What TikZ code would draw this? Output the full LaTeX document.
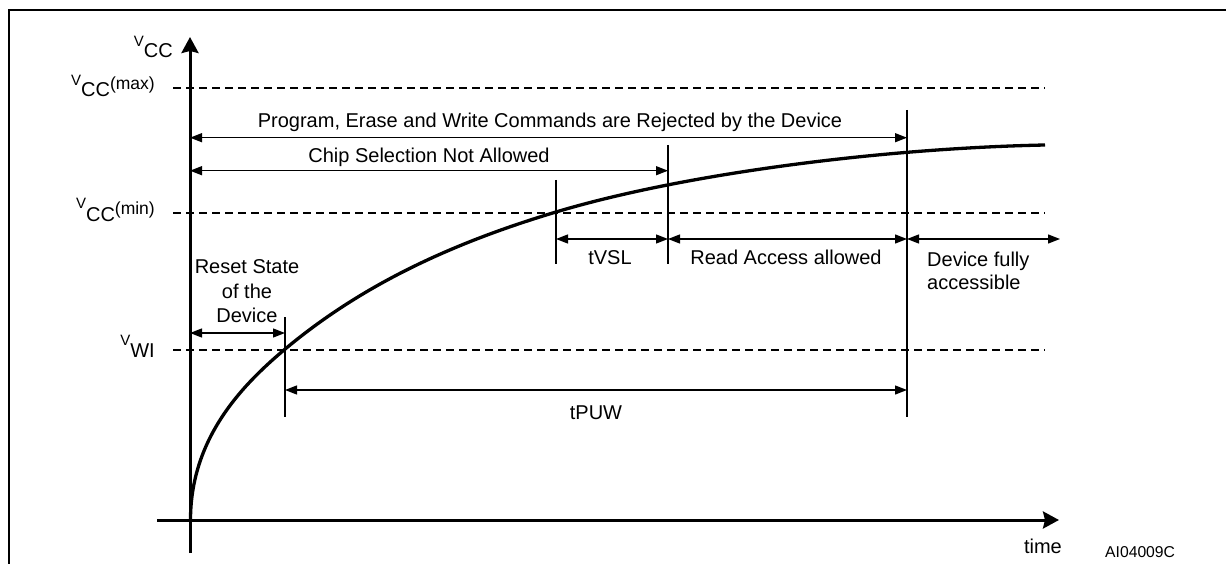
\documentclass[tikz,border=0pt]{standalone}
\usepackage{fontspec}
\setmainfont{Liberation Sans}
\usetikzlibrary{arrows.meta}
\newcommand\vlab[3]{\raisebox{#3}{\fontsize{15}{15}\selectfont V}#1\raisebox{7.5pt}{\fontsize{17.5}{17.5}\selectfont #2}}
\tikzset{
  lbl/.style={inner sep=0pt, font=\fontsize{20}{24}\selectfont},
  frameline/.style={line width=2.3pt},
  axisline/.style={line width=3pt, -{Stealth[length=16pt,width=17pt,inset=2pt]}},
  curveline/.style={line width=3.3pt, line join=round},
  levelline/.style={line width=1.2pt, dash pattern=on 8pt off 5pt},
  markline/.style={line width=1.3pt},
  dimline/.style={line width=1.3pt, {Triangle[length=12pt,width=9pt]}-{Triangle[length=12pt,width=9pt]}}
}
\begin{document}
\begin{tikzpicture}[x=1pt,y=-1pt]
\useasboundingbox (0,0) rectangle (1226,564);
% frame
\coordinate (fb) at (9,564);
\coordinate (fc) at (9,10);
\coordinate (fr) at (1226,10);
\draw[frameline] (fb) -- (fc) -- (fr);
% axes
\coordinate (O) at (190,520);
\coordinate (ybot) at (190,553);
\coordinate (ytop) at (190,37);
\coordinate (xl) at (157,520);
\coordinate (xr) at (1059,520);
\draw[axisline] (ybot) -- (ytop);
\draw[axisline] (xl) -- (xr);
% level lines
\coordinate (maxl) at (173,88);  \coordinate (maxr) at (1045,88);
\coordinate (minl) at (173,213); \coordinate (minr) at (1045,213);
\coordinate (wil) at (173,350);  \coordinate (wir) at (1045,350);
\draw[levelline] (maxl) -- (maxr);
\draw[levelline] (minl) -- (minr);
\draw[levelline] (wil) -- (wir);
% curve
\coordinate (c0) at (190.5,520);
\coordinate (c1) at (284,350);
\coordinate (c2) at (556,212);
\coordinate (c3) at (1045,145);
\draw[curveline] (c0) .. controls (190.5,440) and (240,387) .. (c1)
  .. controls (364,282.8) and (456,242) .. (c2)
  .. controls (686,173) and (885,148.2) .. (c3);
% marker lines
\coordinate (m1t) at (285,317); \coordinate (m1b) at (285,417);
\coordinate (m2t) at (556,180); \coordinate (m2b) at (556,264);
\coordinate (m3t) at (668,145); \coordinate (m3b) at (668,264);
\coordinate (m4t) at (907,110); \coordinate (m4b) at (907,417);
\draw[markline] (m1t) -- (m1b);
\draw[markline] (m2t) -- (m2b);
\draw[markline] (m3t) -- (m3b);
\draw[markline] (m4t) -- (m4b);
% dimension arrows
\coordinate (pa) at (190,137.7); \coordinate (pb) at (907,137.7);
\coordinate (ca) at (190,170.7); \coordinate (cb) at (668,170.7);
\coordinate (va) at (556,239);   \coordinate (vb) at (668,239);
\coordinate (ra) at (668,239);   \coordinate (rb) at (907,239);
\coordinate (da) at (907,239);   \coordinate (db) at (1060,239);
\coordinate (sa) at (190,333);   \coordinate (sb) at (285,333);
\coordinate (ua) at (285,390);   \coordinate (ub) at (907,390);
\draw[dimline] (pa) -- (pb);
\draw[dimline] (ca) -- (cb);
\draw[dimline] (va) -- (vb);
\draw[dimline] (ra) -- (rb);
\draw[dimline] (da) -- (db);
\draw[dimline] (sa) -- (sb);
\draw[dimline] (ua) -- (ub);
% texts
\node[lbl, anchor=base] (tprog) at (550,128) {Program, Erase and Write Commands are Rejected by the Device};
\node[lbl, anchor=base] (tchip) at (429,163) {Chip Selection Not Allowed};
\node[lbl, anchor=base] (ttvsl) at (610,264) {tVSL};
\node[lbl, anchor=base] (tread) at (786,264) {Read Access allowed};
\node[lbl, anchor=base west] (tdev1) at (927,266) {Device fully};
\node[lbl, anchor=base west] (tdev2) at (927,289) {accessible};
\node[lbl, anchor=base] (trs1) at (247,273) {Reset State};
\node[lbl, anchor=base] (trs2) at (247,298) {of the};
\node[lbl, anchor=base] (trs3) at (247,322) {Device};
\node[lbl, anchor=base] (ttpuw) at (596,419) {tPUW};
\node[lbl, anchor=base east] (ttime) at (1062,553) {time};
\node[inner sep=0pt, anchor=base west, font=\fontsize{15.7}{18}\selectfont] (tcode) at (1105,557) {AI04009C};
% axis labels
\node[lbl, anchor=base east] (lvcc) at (173,58) {\vlab{CC}{}{11pt}};
\node[lbl, anchor=base east] (lmax) at (155,97) {\vlab{CC}{(max)}{11pt}};
\node[lbl, anchor=base east] (lmin) at (155,222) {\vlab{CC}{(min)}{13pt}};
\node[lbl, anchor=base east] (lwi) at (155,357) {\vlab{WI}{}{12pt}};
\end{tikzpicture}
\end{document}
